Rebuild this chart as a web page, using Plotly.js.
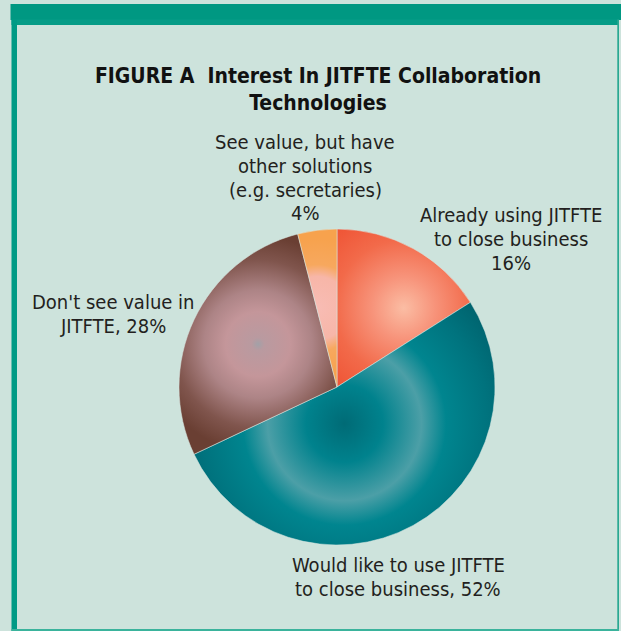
<!DOCTYPE html>
<html>
<head>
<meta charset="utf-8">
<script src="https://cdn.plot.ly/plotly-3.0.1.min.js"></script>
<style>
html,body{margin:0;padding:0;background:#cde3dc;}
#chart{width:621px;height:631px;}
</style>
</head>
<body>
<div id="chart"></div>
<script>
// ---- data ----
const categories = [
  'Already using JITFTE to close business',
  'Would like to use JITFTE to close business',
  "Don't see value in JITFTE",
  'See value, but have other solutions (e.g. secretaries)'
];
const values = [16, 52, 28, 4];
const labelLines = [
  ['Already using JITFTE', 'to close business', values[0] + '%'],
  ['Would like to use JITFTE', 'to close business, ' + values[1] + '%'],
  ["Don't see value in", 'JITFTE, ' + values[2] + '%'],
  ['See value, but have', 'other solutions', '(e.g. secretaries)', values[3] + '%']
];
const sliceColors = ['#f06543', '#00808b', '#9a6a63', '#f7a450'];
const titleText = 'FIGURE A\u00a0\u00a0Interest In JITFTE Collaboration<br>Technologies';

// ---- layout helpers (pixel -> paper) ----
const W = 621, H = 631;
const px = x => x / W;
const py = y => 1 - y / H;

const cx = 337, cy = 387, R = 158;
// centre x and first-line y of each label block, and line spacing
const labelPos = [[511, 215], [398, 565], [113, 302], [305, 141.5]];
const lineGap = 24;

const font = '"Liberation Sans Narrow", "DejaVu Sans Condensed", "Liberation Sans", sans-serif';

const trace = {
  type: 'pie',
  labels: categories,
  values: values,
  sort: false,
  direction: 'clockwise',
  rotation: 0,
  textinfo: 'none',
  hoverinfo: 'label+percent',
  marker: {colors: sliceColors, line: {color: 'rgba(215,230,225,0.9)', width: 0.6}},
  domain: {x: [px(cx - R), px(cx + R)], y: [py(cy + R), py(cy - R)]},
  showlegend: false
};

const annotations = [];
labelLines.forEach((lines, i) => {
  lines.forEach((t, j) => {
    annotations.push({
      text: t,
      xref: 'paper', yref: 'paper',
      x: px(labelPos[i][0]), y: py(labelPos[i][1] + j * lineGap),
      xanchor: 'center', yanchor: 'middle',
      showarrow: false,
      font: {family: font, size: 20, color: '#231f20'}
    });
  });
});

const shapes = [
  {type: 'rect', xref: 'paper', yref: 'paper', x0: px(10.5), x1: px(621), y0: py(20), y1: py(4), fillcolor: '#009882', line: {width: 0}, layer: 'below'},
  {type: 'rect', xref: 'paper', yref: 'paper', x0: px(11.5), x1: px(619), y0: py(25), y1: py(19.5), fillcolor: '#069c87', line: {width: 0}, layer: 'below'},
  {type: 'rect', xref: 'paper', yref: 'paper', x0: px(11.5), x1: px(17), y0: py(631), y1: py(19.5), fillcolor: '#009a85', line: {width: 0}, layer: 'below'},
  {type: 'rect', xref: 'paper', yref: 'paper', x0: px(617.3), x1: px(619), y0: py(631), y1: py(19.5), fillcolor: '#2aa892', line: {width: 0}, layer: 'below'},
  {type: 'rect', xref: 'paper', yref: 'paper', x0: px(11.5), x1: px(619), y0: py(631), y1: py(629), fillcolor: '#3ab39c', line: {width: 0}, layer: 'below'}
];

const layout = {
  width: W, height: H,
  margin: {l: 0, r: 0, t: 0, b: 0, pad: 0},
  paper_bgcolor: '#cde3dc',
  plot_bgcolor: '#cde3dc',
  title: {
    text: '<b>' + titleText + '</b>',
    x: px(318), xref: 'paper', xanchor: 'center',
    y: py(83), yref: 'container', yanchor: 'middle',
    font: {family: font, size: 21, color: '#111111'}
  },
  annotations: annotations,
  shapes: shapes
};

// radial gradient styling per slice (centered on each slice's bounding box)
const gradients = [
  {r: 105, stops: [[0, '#fbbda4'], [0.3, '#f7937a'], [0.65, '#f26a4a'], [1, '#ef5334']]},
  {r: 175, stops: [[0, '#006b76'], [0.22, '#00828d'], [0.44, '#4c9fa7'], [0.58, '#00858f'], [0.82, '#00737e'], [1, '#00636e']]},
  {r: 108, stops: [[0, '#a2a1a8'], [0.06, '#b99aa0'], [0.3, '#c4969a'], [0.5, '#ad8486'], [0.78, '#80554d'], [1, '#6a3f33']]},
  {r: 70, stops: [[0, '#f8bcb4'], [0.45, '#f7b6a8'], [0.62, '#f7a85e'], [1, '#f7a24d']]}
];

Plotly.newPlot('chart', [trace], layout, {displayModeBar: false}).then(gd => {
  const svg = gd.querySelector('svg.main-svg');
  const NS = 'http://www.w3.org/2000/svg';
  let defs = svg.querySelector('defs');
  if (!defs) { defs = document.createElementNS(NS, 'defs'); svg.insertBefore(defs, svg.firstChild); }
  const paths = gd.querySelectorAll('g.slice path.surface');
  paths.forEach((p, i) => {
    const g = gradients[i];
    if (!g) return;
    const bb = p.getBBox();
    const rg = document.createElementNS(NS, 'radialGradient');
    rg.setAttribute('id', 'sliceGrad' + i);
    rg.setAttribute('gradientUnits', 'userSpaceOnUse');
    rg.setAttribute('cx', bb.x + bb.width / 2);
    rg.setAttribute('cy', bb.y + bb.height / 2);
    rg.setAttribute('r', g.r);
    g.stops.forEach(s => {
      const st = document.createElementNS(NS, 'stop');
      st.setAttribute('offset', s[0]);
      st.setAttribute('stop-color', s[1]);
      rg.appendChild(st);
    });
    defs.appendChild(rg);
    p.style.fill = 'url(#sliceGrad' + i + ')';
  });
});
</script>
</body>
</html>
